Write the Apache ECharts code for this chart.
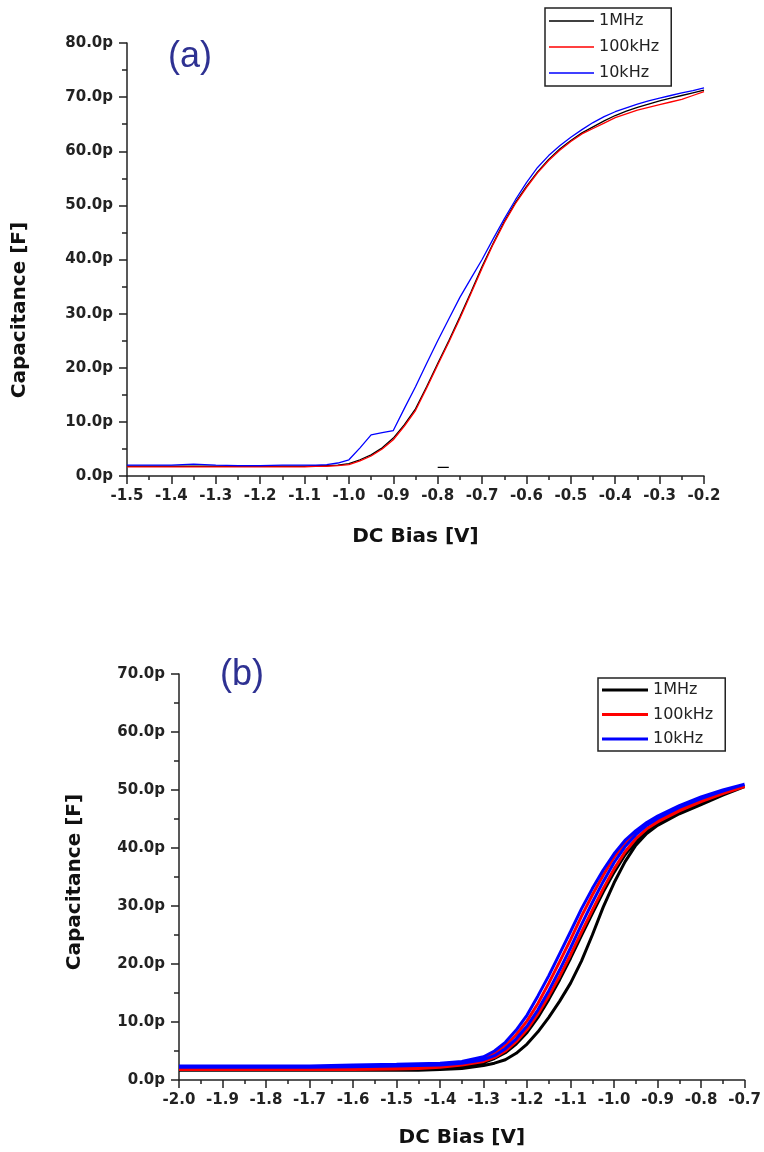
<!DOCTYPE html>
<html><head><meta charset="utf-8">
<script src="https://cdn.jsdelivr.net/npm/echarts@6/dist/echarts.min.js"></script>
<style>html,body{margin:0;padding:0;background:#fff}#c{width:764px;height:1152px}</style>
</head><body><div id="c"></div>
<script>
// ---------- Panel (a) ----------
const aNames = ['1MHz', '100kHz', '10kHz'];
const aXTicks = [-1.5,-1.4,-1.3,-1.2,-1.1,-1.0,-0.9,-0.8,-0.7,-0.6,-0.5,-0.4,-0.3,-0.2];
const aX = [-1.5,-1.45,-1.4,-1.35,-1.3,-1.25,-1.2,-1.15,-1.1,-1.075,-1.05,-1.025,-1.0,-0.975,-0.95,-0.925,-0.9,-0.875,-0.85,-0.825,-0.8,-0.775,-0.75,-0.725,-0.7,-0.675,-0.65,-0.625,-0.6,-0.575,-0.55,-0.525,-0.5,-0.475,-0.45,-0.425,-0.4,-0.375,-0.35,-0.325,-0.3,-0.275,-0.25,-0.225,-0.2];
const a1MHz =   [1.8,1.8,1.8,1.8,1.8,1.8,1.8,1.8,1.8,1.9,1.9,2.0,2.3,3.0,3.9,5.2,7.0,9.5,12.4,16.5,20.8,25.0,29.4,34.0,38.7,43.0,47.0,50.5,53.5,56.2,58.5,60.4,62.0,63.4,64.5,65.6,66.6,67.4,68.1,68.7,69.3,69.8,70.3,70.8,71.3];
const a100kHz = [1.7,1.7,1.7,1.7,1.7,1.7,1.7,1.7,1.7,1.8,1.8,1.9,2.1,2.8,3.7,5.0,6.7,9.2,12.1,16.2,20.5,24.7,29.1,33.7,38.4,42.8,46.8,50.3,53.3,56.0,58.3,60.2,61.8,63.2,64.2,65.2,66.2,66.9,67.6,68.1,68.6,69.1,69.6,70.3,71.0];
const a10kHz =  [2.0,2.0,2.0,2.2,2.0,1.9,1.9,2.0,2.0,2.0,2.1,2.4,3.0,5.2,7.6,8.0,8.4,12.5,16.5,20.8,25.0,29.0,33.0,36.5,40.0,43.8,47.5,51.0,54.2,57.0,59.2,61.0,62.6,64.0,65.3,66.4,67.3,68.0,68.7,69.3,69.8,70.3,70.8,71.2,71.7];
const aStrayX = [-0.8,-0.775];
const aStrayY = [1.6,1.6];

// ---------- Panel (b) ----------
const bNames = ['1MHz', '100kHz', '10kHz'];
const bXTicks = [-2.0,-1.9,-1.8,-1.7,-1.6,-1.5,-1.4,-1.3,-1.2,-1.1,-1.0,-0.9,-0.8,-0.7];
const bX = [-2.0,-1.9,-1.8,-1.7,-1.6,-1.5,-1.45,-1.4,-1.35,-1.3,-1.275,-1.25,-1.225,-1.2,-1.175,-1.15,-1.125,-1.1,-1.075,-1.05,-1.025,-1.0,-0.975,-0.95,-0.925,-0.9,-0.85,-0.8,-0.75,-0.7];
const b10kHzUp   = [2.4,2.4,2.4,2.4,2.6,2.7,2.8,2.9,3.2,4.0,5.0,6.5,8.6,11.2,14.5,18.0,21.8,25.6,29.5,33.0,36.2,39.0,41.3,43.0,44.4,45.5,47.3,48.8,50.0,51.0];
const b10kHzDown = [2.2,2.2,2.2,2.2,2.3,2.4,2.5,2.6,2.9,3.5,4.2,5.4,7.1,9.3,12.1,15.4,19.0,22.8,26.8,30.6,34.2,37.5,40.2,42.3,43.9,45.1,47.0,48.5,49.8,50.9];
const b100kHzUp   = [1.9,1.9,1.9,1.9,2.0,2.2,2.4,2.6,3.0,3.7,4.6,5.9,7.8,10.2,13.2,16.7,20.4,24.2,28.2,31.9,35.3,38.4,40.8,42.6,44.0,45.0,46.8,48.3,49.6,50.6];
const b100kHzDown = [1.8,1.8,1.8,1.8,1.8,1.9,2.0,2.2,2.6,3.2,3.9,5.0,6.6,8.7,11.4,14.5,17.9,21.6,25.5,29.3,33.0,36.4,39.3,41.6,43.3,44.5,46.4,48.0,49.4,50.5];
const b1MHzUp   = [1.7,1.7,1.7,1.7,1.7,1.8,1.9,2.1,2.5,3.0,3.7,4.7,6.2,8.2,10.8,13.9,17.3,21.0,24.9,28.7,32.4,35.8,38.8,41.2,43.0,44.3,46.2,47.8,49.3,50.6];
const b1MHzDown = [1.7,1.7,1.7,1.7,1.7,1.7,1.7,1.8,2.0,2.5,2.9,3.5,4.6,6.2,8.3,10.8,13.6,16.7,20.5,25.0,29.8,34.0,37.6,40.5,42.5,43.9,45.9,47.5,49.1,50.4];

const colors = ['#000000', '#ff0000', '#0000ff'];
const pair = (xs, ys) => xs.map((x, i) => [x, ys[i]]);
const loop = (xs, up, down) => pair(xs, up).concat(pair(xs, down).reverse());

const tickFont = {fontFamily: 'DejaVu Sans', fontWeight: 'bold', fontSize: 15, color: '#222'};
const nameFont = 'bold 20px "DejaVu Sans"';

function xAxis(gi, ticks, nameGap) {
  return {
    type: 'value', gridIndex: gi, min: ticks[0], max: ticks[ticks.length - 1], interval: 0.1,
    name: 'DC Bias [V]', nameLocation: 'middle', nameGap: nameGap,
    nameTextStyle: {fontFamily: 'DejaVu Sans', fontWeight: 'bold', fontSize: 20, color: '#111'},
    axisLine: {show: true, onZero: false, lineStyle: {color: '#222', width: 1.5}},
    axisTick: {show: true, inside: false, length: 8, lineStyle: {color: '#222', width: 1.5}},
    minorTick: {show: true, splitNumber: 2, length: 4, lineStyle: {color: '#222', width: 1.5}},
    splitLine: {show: false},
    axisLabel: Object.assign({margin: 13, formatter: v => v.toFixed(1)}, tickFont)
  };
}
function yAxis(gi, max) {
  return {
    type: 'value', gridIndex: gi, min: 0, max: max, interval: 10,
    axisLine: {show: true, lineStyle: {color: '#222', width: 1.5}},
    axisTick: {show: true, inside: false, length: 8, lineStyle: {color: '#222', width: 1.5}},
    minorTick: {show: true, splitNumber: 2, length: 5, lineStyle: {color: '#222', width: 1.5}},
    splitLine: {show: false},
    axisLabel: Object.assign({margin: 14, formatter: v => v.toFixed(1) + 'p'}, tickFont)
  };
}

const aData = [
  pair(aX, a1MHz).concat([[null, null]], pair(aStrayX, aStrayY)),
  pair(aX, a100kHz),
  pair(aX, a10kHz)
];
const bData = [
  loop(bX, b1MHzUp, b1MHzDown),
  loop(bX, b100kHzUp, b100kHzDown),
  loop(bX, b10kHzUp, b10kHzDown)
];

const series = [];
aNames.forEach((n, i) => series.push({
  name: n, type: 'line', xAxisIndex: 0, yAxisIndex: 0, data: aData[i],
  symbol: 'none', connectNulls: false, z: i === 2 ? 3 : 2,
  lineStyle: {color: colors[i], width: 1.3}, itemStyle: {color: colors[i]}
}));
bNames.forEach((n, i) => series.push({
  name: n, type: 'line', xAxisIndex: 1, yAxisIndex: 1, data: bData[i],
  symbol: 'none', z: 2,
  lineStyle: {color: colors[i], width: 3}, itemStyle: {color: colors[i]}
}));

const legendText = {fontFamily: 'DejaVu Sans', fontSize: 16, color: '#222'};
const option = {
  backgroundColor: '#fff',
  animation: false,
  title: [
    {text: '(a)', left: 163, top: 34, textStyle: {fontFamily: 'Liberation Sans', fontSize: 36, fontWeight: 'normal', color: '#2e3192'}},
    {text: '(b)', left: 215, top: 652, textStyle: {fontFamily: 'Liberation Sans', fontSize: 36, fontWeight: 'normal', color: '#2e3192'}}
  ],
  grid: [
    {left: 127, top: 43, width: 577, height: 433},
    {left: 179, top: 674, width: 569, height: 406}
  ],
  xAxis: [xAxis(0, aXTicks, 51), xAxis(1, bXTicks, 48)],
  yAxis: [yAxis(0, 80), yAxis(1, 70)],
  legend: [
    {data: aNames, orient: 'vertical', left: 545, top: 8, icon: 'rect', itemWidth: 45, itemHeight: 1.5, itemGap: 10,
     padding: [5, 12, 5, 4], borderColor: '#222', borderWidth: 1.5, textStyle: legendText},
    {data: bNames, orient: 'vertical', left: 598, top: 678, icon: 'rect', itemWidth: 46, itemHeight: 3, itemGap: 8.5,
     padding: [4, 12, 4, 4], borderColor: '#222', borderWidth: 1.5, textStyle: legendText}
  ],
  graphic: [
    {type: 'text', x: 20, y: 310, rotation: Math.PI / 2,
     style: {text: 'Capacitance [F]', font: nameFont, fill: '#111', align: 'center', verticalAlign: 'middle'}},
    {type: 'text', x: 75, y: 882, rotation: Math.PI / 2,
     style: {text: 'Capacitance [F]', font: nameFont, fill: '#111', align: 'center', verticalAlign: 'middle'}}
  ],
  series: series
};
const chart = echarts.init(document.getElementById('c'), null, {renderer: 'canvas'});
chart.setOption(option);
</script></body></html>
